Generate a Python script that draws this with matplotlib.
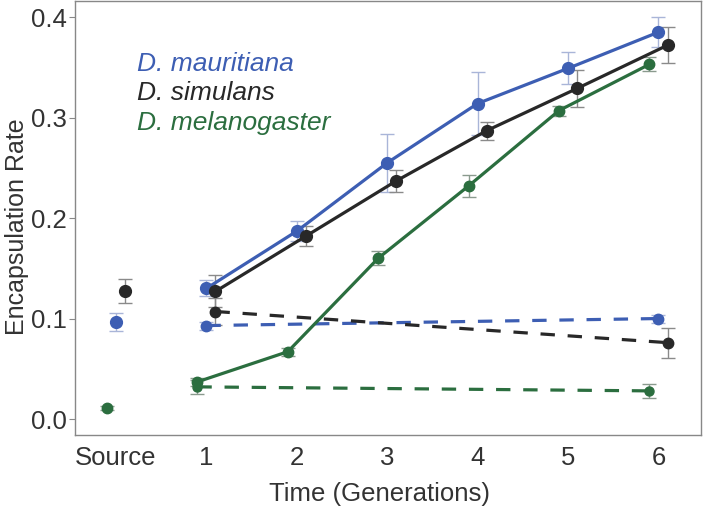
import matplotlib
matplotlib.use("Agg")
import matplotlib.pyplot as plt
import numpy as np

plt.rcParams['font.family'] = ['Liberation Sans', 'DejaVu Sans']

# Data
tick_labels = ["Source", "1", "2", "3", "4", "5", "6"]
gens = [1, 2, 3, 4, 5, 6]

species = ["D. mauritiana", "D. simulans", "D. melanogaster"]
colors = {"D. mauritiana": "#3d5eb3", "D. simulans": "#282828", "D. melanogaster": "#2b6e3f"}
err_colors = {"D. mauritiana": "#a9b5d8", "D. simulans": "#8a8a8a", "D. melanogaster": "#8a9a8e"}
dodge = {"D. mauritiana": 0.0, "D. simulans": 0.1, "D. melanogaster": -0.1}

source_mean = {"D. mauritiana": 0.097, "D. simulans": 0.127, "D. melanogaster": 0.011}
source_se = {"D. mauritiana": 0.009, "D. simulans": 0.012, "D. melanogaster": 0.002}

# selected (solid) lines
sel_mean = {
    "D. mauritiana": [0.130, 0.187, 0.255, 0.314, 0.349, 0.385],
    "D. simulans": [0.127, 0.182, 0.237, 0.287, 0.329, 0.372],
    "D. melanogaster": [0.037, 0.067, 0.160, 0.232, 0.307, 0.353],
}
sel_se = {
    "D. mauritiana": [0.008, 0.010, 0.029, 0.031, 0.016, 0.015],
    "D. simulans": [0.016, 0.010, 0.011, 0.009, 0.018, 0.018],
    "D. melanogaster": [0.004, 0.004, 0.007, 0.011, 0.005, 0.007],
}

# control (dashed) lines: generations 1 and 6
ctrl_gens = [1, 6]
ctrl_mean = {
    "D. mauritiana": [0.093, 0.100],
    "D. simulans": [0.107, 0.076],
    "D. melanogaster": [0.032, 0.028],
}
ctrl_se = {
    "D. mauritiana": [0.004, 0.004],
    "D. simulans": [0.013, 0.015],
    "D. melanogaster": [0.007, 0.007],
}

fig = plt.figure(figsize=(7.04, 5.09), dpi=100)
ax = fig.add_axes([0.1065, 0.1454, 0.8892, 0.8526])

for sp in species:
    c = colors[sp]
    ec = err_colors[sp]
    d = dodge[sp]
    ms = 8.5 if sp != "D. melanogaster" else 7.5
    # source point
    ax.errorbar([0 + d], [source_mean[sp]], yerr=[source_se[sp]], fmt='none',
                ecolor=ec, elinewidth=1.0, capsize=5, capthick=1.0, zorder=2)
    ax.plot([0 + d], [source_mean[sp]], 'o', color=c, ms=ms, zorder=4)
    # selected
    x = np.array(gens) + d
    ax.errorbar(x, sel_mean[sp], yerr=sel_se[sp], fmt='none',
                ecolor=ec, elinewidth=1.0, capsize=5, capthick=1.0, zorder=2)
    ax.plot(x, sel_mean[sp], '-o', color=c, lw=2.3, ms=ms, zorder=3)
    # control
    xc = np.array(ctrl_gens) + d
    ax.errorbar(xc, ctrl_mean[sp], yerr=ctrl_se[sp], fmt='none',
                ecolor=ec, elinewidth=1.0, capsize=5, capthick=1.0, zorder=2)
    ax.plot(xc, ctrl_mean[sp], '--', color=c, lw=2.3, dashes=(4.5, 4), zorder=3)
    ax.plot(xc, ctrl_mean[sp], 'o', color=c, ms=ms - 1, zorder=4)

ax.set_xlim(-0.454, 6.47)
ax.set_ylim(-0.0159, 0.416)
ax.set_xticks(range(7))
ax.set_xticklabels(tick_labels)
ax.set_yticks([0.0, 0.1, 0.2, 0.3, 0.4])
ax.set_yticklabels(["0.0", "0.1", "0.2", "0.3", "0.4"])
ax.tick_params(axis='x', length=0, labelsize=18.5, colors='#333333', pad=8)
ax.tick_params(axis='y', length=4, width=0.8, color='#888888', labelsize=18.5, labelcolor='#333333', pad=2)
for s in ax.spines.values():
    s.set_color('#888888')
    s.set_linewidth(1.0)

ax.set_xlabel("Time (Generations)", fontsize=18.5, color='#333333')
ax.set_ylabel("Encapsulation Rate", fontsize=18, color='#333333')
ax.xaxis.set_label_coords(0.486, -0.108)
ax.yaxis.set_label_coords(-0.073, 0.48)

legend_x = 0.232
legend_y = [0.353, 0.324, 0.295]
for sp, yv in zip(species, legend_y):
    ax.text(legend_x, yv, sp, color=colors[sp], fontsize=19, style='italic',
            ha='left', va='center')

fig.savefig("out.png", dpi=100)
